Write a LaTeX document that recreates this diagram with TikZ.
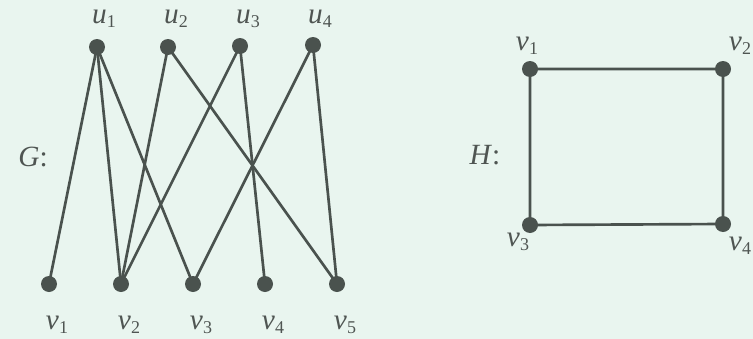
\documentclass[tikz,border=0pt]{standalone}
\usepackage{fontspec}
\setmainfont{Liberation Serif}
\definecolor{bgc}{HTML}{E9F5EF}
\definecolor{ink}{HTML}{4A524E}
\definecolor{txt}{HTML}{4F5552}
\newcommand{\lbl}[2]{\textit{#1}\raisebox{-0.3ex}{\fontsize{13.5}{15}\selectfont #2}}
\begin{document}
\begin{tikzpicture}[x=0.75pt,y=-0.75pt,
  dot/.style={circle,fill=ink,inner sep=0pt,minimum size=12pt},
  edge/.style={draw=ink,line width=2pt},
  lab/.style={text=txt,font=\fontsize{22}{25}\selectfont,inner sep=0pt}]
\fill[bgc] (0,0) rectangle (753,339);
\useasboundingbox (0,0) rectangle (753,339);
% Graph G
\node[dot] (u1) at (97,47) {};
\node[dot] (u2) at (168,47) {};
\node[dot] (u3) at (240,46) {};
\node[dot] (u4) at (313,45) {};
\node[dot] (v1) at (49,284) {};
\node[dot] (v2) at (121,284) {};
\node[dot] (v3) at (193,284) {};
\node[dot] (v4) at (265,284) {};
\node[dot] (v5) at (337,284) {};
\foreach \a/\b in {u1/v1,u1/v2,u1/v3,u2/v2,u2/v5,u3/v2,u3/v4,u4/v3,u4/v5}
  \draw[edge] (\a.center) -- (\b.center);
\foreach \i/\x in {1/104,2/176,3/248,4/320}
  \node[lab] (lu\i) at (\x,19) {\lbl{u}{\i}};
\foreach \i/\x in {1/57,2/129,3/201,4/273,5/345}
  \node[lab] (lv\i) at (\x,325) {\lbl{v}{\i}};
\node[lab] (G) at (33,157) {\textit{G}:};
% Graph H
\node[dot] (h1) at (530,69) {};
\node[dot] (h2) at (723,69) {};
\node[dot] (h3) at (530,225) {};
\node[dot] (h4) at (723,224) {};
\draw[edge] (h1.center) -- (h2.center) -- (h4.center) -- (h3.center) -- (h1.center);
\node[lab] (lh1) at (527,46) {\lbl{v}{1}};
\node[lab] (lh2) at (740,46) {\lbl{v}{2}};
\node[lab] (lh3) at (518,242) {\lbl{v}{3}};
\node[lab] (lh4) at (740,246) {\lbl{v}{4}};
\node[lab] (H) at (485,155) {\textit{H}:};
\end{tikzpicture}
\end{document}
